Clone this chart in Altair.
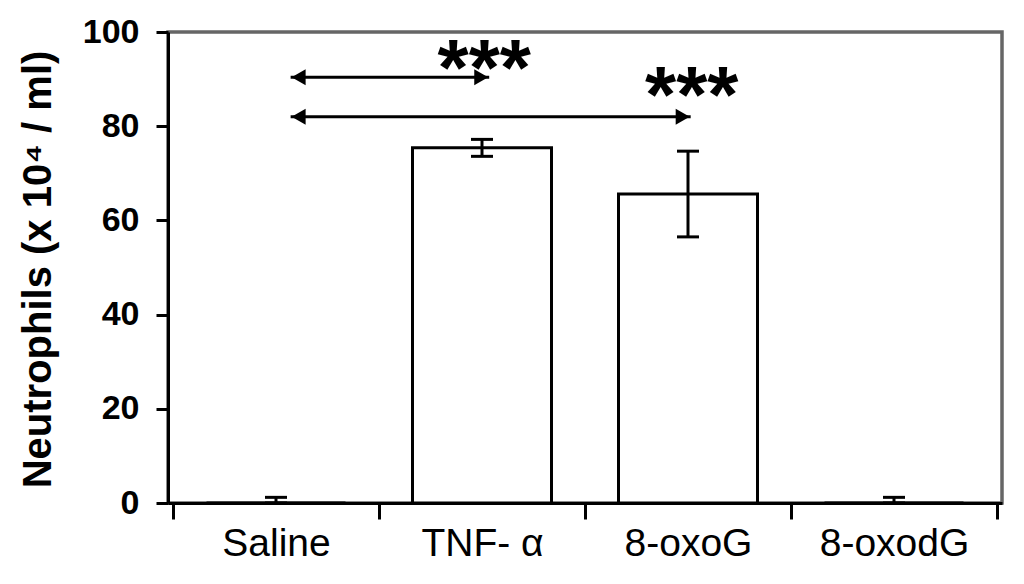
import json
import altair as alt
import pandas as pd

# ---- data ----
categories = ["Saline", "TNF- α", "8-oxoG", "8-oxodG"]
means = [0.0, 75.4, 65.6, 0.0]
errors = [1.2, 1.8, 9.1, 1.2]

arrow_from = [0.571, 0.571]
arrow_to = [1.535, 2.513]
arrow_y = [90.4, 82.0]

star_text = ["***", "***"]
star_x = [1.511, 2.518]
star_y = [95.2, 89.3]

x_ticks = [0, 0.5, 1, 1.5, 2, 2.5, 3, 3.5, 4]
y_ticks = [0, 20, 40, 60, 80, 100]

FONT = "Liberation Sans"

bars_df = pd.DataFrame({
    "cat": categories,
    "pos": [i + 0.5 for i in range(len(categories))],
    "mean": means,
    "lo": [max(0.0, m - e) for m, e in zip(means, errors)],
    "hi": [m + e for m, e in zip(means, errors)],
})
arrows_df = pd.DataFrame({"x1": arrow_from, "x2": arrow_to, "y": arrow_y})
stars_df = pd.DataFrame({"t": star_text, "x": star_x, "y": star_y})

xscale = alt.Scale(domain=[0, 4], nice=False, zero=False)
yscale = alt.Scale(domain=[0, 100], nice=False, zero=False)

label_expr = (
    "datum.value % 1 == 0.5 ? " + json.dumps(categories, ensure_ascii=False)
    + "[floor(datum.value)] : ''"
)

x_axis = alt.Axis(
    values=x_ticks, title=None, grid=False,
    labelExpr=label_expr, labelFontSize=39, labelFont=FONT, labelColor="black",
    labelPadding=5, labelFlush=False, labelOverlap=False, labelBaseline="top",
    tickSize=16, tickWidth=3, tickColor="black",
    tickOpacity={"condition": {"test": "datum.value % 1 == 0", "value": 1}, "value": 0},
    domainColor="black", domainWidth=3,
)
y_axis = alt.Axis(
    values=y_ticks, grid=False,
    title="Neutrophils (x 10⁴ / ml)",
    titleFontSize=40, titleFontWeight="bold", titleFont=FONT, titleColor="black",
    titleAngle=-90, titleAlign="center", titleBaseline="middle",
    titleX=-130, titleY=237,
    labelFontSize=34, labelFontWeight="bold", labelFont=FONT, labelColor="black",
    labelPadding=17,
    tickSize=12, tickWidth=3, tickColor="black",
    domainColor="black", domainWidth=3,
)

bars = alt.Chart(bars_df).mark_bar(
    size=139, fill="white", stroke="black", strokeWidth=3
).encode(
    x=alt.X("pos:Q", scale=xscale, axis=x_axis),
    y=alt.Y("mean:Q", scale=yscale, axis=y_axis),
)

whisk = alt.Chart(bars_df).mark_rule(color="black", strokeWidth=3).encode(
    x=alt.X("pos:Q", scale=xscale),
    y=alt.Y("lo:Q", scale=yscale),
    y2="hi:Q",
)
cap_hi = alt.Chart(bars_df).mark_tick(
    orient="horizontal", size=22, thickness=3, color="black", opacity=1
).encode(x=alt.X("pos:Q", scale=xscale), y=alt.Y("hi:Q", scale=yscale))
cap_lo = alt.Chart(bars_df).mark_tick(
    orient="horizontal", size=22, thickness=3, color="black", opacity=1
).encode(x=alt.X("pos:Q", scale=xscale), y=alt.Y("lo:Q", scale=yscale))

arrow_line = alt.Chart(arrows_df).mark_rule(color="black", strokeWidth=3).encode(
    x=alt.X("x1:Q", scale=xscale),
    x2="x2:Q",
    y=alt.Y("y:Q", scale=yscale),
)
head_left = alt.Chart(arrows_df).mark_point(
    shape="triangle-left", size=260, filled=True, color="black", opacity=1, xOffset=8
).encode(x=alt.X("x1:Q", scale=xscale), y=alt.Y("y:Q", scale=yscale))
head_right = alt.Chart(arrows_df).mark_point(
    shape="triangle-right", size=260, filled=True, color="black", opacity=1, xOffset=-8
).encode(x=alt.X("x2:Q", scale=xscale), y=alt.Y("y:Q", scale=yscale))

stars = alt.Chart(stars_df).mark_text(
    font=FONT, fontSize=80, fontWeight="bold", color="black",
    align="center", baseline="alphabetic", dy=40
).encode(
    x=alt.X("x:Q", scale=xscale),
    y=alt.Y("y:Q", scale=yscale),
    text="t:N",
)

chart = alt.layer(
    bars, whisk, cap_hi, cap_lo, arrow_line, head_left, head_right, stars
).properties(
    width=834, height=471,
    autosize=alt.AutoSizeParams(type="none"),
    padding={"left": 160, "top": 24, "right": 14, "bottom": 70},
).configure(
    font=FONT, background="white",
    view=alt.ViewConfig(stroke="#666666", strokeWidth=3.5, strokeOpacity=1),
)

chart.save("out.html", embed_options={"renderer": "svg", "actions": False})
